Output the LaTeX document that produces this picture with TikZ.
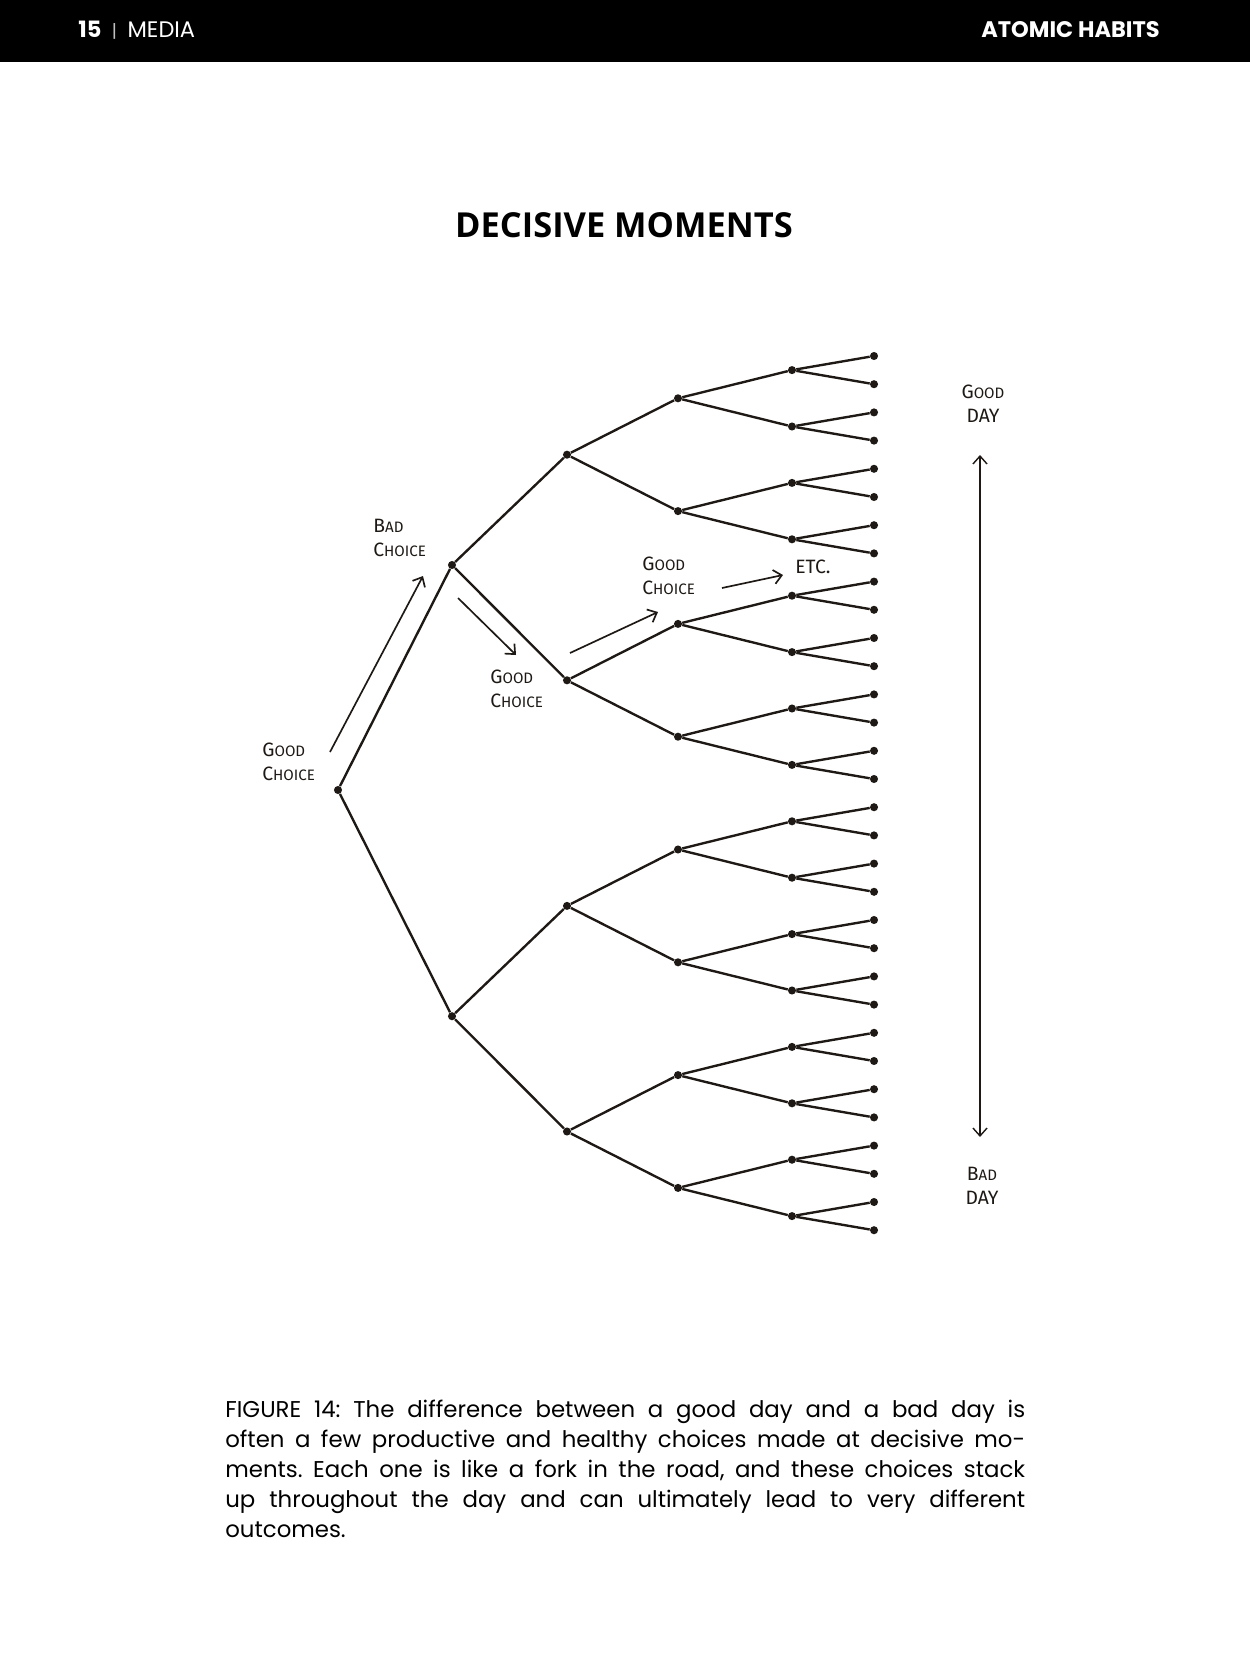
\documentclass[tikz,border=0pt]{standalone}
\usepackage{fontspec}
\usetikzlibrary{arrows.meta,positioning,calc}
\newfontfamily\headfont{Poppins}
\newfontfamily\titlefont{Open Sans}
\newfontfamily\handfont{Fira Sans}
\newfontfamily\capfont{Poppins}
\definecolor{ink}{HTML}{1E1915}
\newcommand{\hw}[2]{{\fontsize{11}{13.5}\selectfont #1}{\fontsize{8.6}{13.5}\selectfont #2}}
\tikzset{dotnode/.style={circle,fill=ink,inner sep=0pt,minimum size=4.6pt},branch/.style={draw=ink,line width=1.35pt},handarr/.style={-{Straight Barb[length=4.5pt,width=8pt]},draw=ink,line width=0.95pt},dayarr/.style={{Straight Barb[length=4.5pt,width=8pt]}-{Straight Barb[length=4.5pt,width=8pt]},draw=ink,line width=0.8pt},handlabel/.style={font=\handfont\fontsize{8.6}{13.5}\selectfont,text=ink,inner sep=0pt},headtext/.style={font=\headfont\fontsize{12.8}{14}\selectfont,text=white,inner sep=0pt},caption/.style={font=\capfont\fontsize{13}{17}\selectfont\frenchspacing,text width=16cm,align=justify,inner sep=0pt}}

\begin{document}
\begin{tikzpicture}[x=0.02cm,y=-0.02cm]
\useasboundingbox (0,0) rectangle (1250,1666);
\fill[white] (0,0) rectangle (1250,1666);
\fill[black] (0,0) rectangle (1250,62);
\node[headtext,anchor=west] (page) at (78,30) {\textbf{15}\hspace{6pt}{\color{white!75!black}\fontsize{10}{12}\selectfont|}\hspace{6pt}MEDIA};
\node[headtext,anchor=east] (book) at (1160,30) {\textbf{ATOMIC HABITS}};
\node[font=\titlefont\bfseries\fontsize{19.6}{22}\selectfont,inner sep=0pt] (title) at (624,225) {DECISIVE MOMENTS};
\node[dotnode] (r) at (338,790) {};
\foreach \i in {1,2} \node[dotnode] (a\i) at (452,{565+451.2*(\i-1)}) {};
\foreach \i in {1,...,4} \node[dotnode] (b\i) at (567,{454.7+225.6*(\i-1)}) {};
\foreach \i in {1,...,8} \node[dotnode] (c\i) at (678,{398.3+112.8*(\i-1)}) {};
\foreach \i in {1,...,16} \node[dotnode] (d\i) at (792,{370.1+56.4*(\i-1)}) {};
\foreach \i in {1,...,32} \node[dotnode] (e\i) at (874,{356+28.2*(\i-1)}) {};
\draw[branch] (r)--(a1);
\draw[branch] (r)--(a2);
\foreach \i [evaluate=\i as \j using {int(2*\i-1)},evaluate=\i as \k using {int(2*\i)}] in {1,2} {\draw[branch] (a\i)--(b\j); \draw[branch] (a\i)--(b\k);}
\foreach \i [evaluate=\i as \j using {int(2*\i-1)},evaluate=\i as \k using {int(2*\i)}] in {1,...,4} {\draw[branch] (b\i)--(c\j); \draw[branch] (b\i)--(c\k);}
\foreach \i [evaluate=\i as \j using {int(2*\i-1)},evaluate=\i as \k using {int(2*\i)}] in {1,...,8} {\draw[branch] (c\i)--(d\j); \draw[branch] (c\i)--(d\k);}
\foreach \i [evaluate=\i as \j using {int(2*\i-1)},evaluate=\i as \k using {int(2*\i)}] in {1,...,16} {\draw[branch] (d\i)--(e\j); \draw[branch] (d\i)--(e\k);}
\coordinate (up0) at (330,752);
\coordinate (up1) at (423,576);
\coordinate (dn0) at (458,598);
\coordinate (dn1) at (516,655);
\coordinate (gc0) at (570,653);
\coordinate (gc1) at (658,612);
\coordinate (etc0) at (722,588);
\coordinate (etc1) at (783,575);
\draw[handarr] (up0)--(up1);
\draw[handarr] (dn0)--(dn1);
\draw[handarr] (gc0)--(gc1);
\draw[handarr] (etc0)--(etc1);
\node[handlabel,anchor=north west,align=left] (good1) at (262,743) {\hw{G}{OOD}\\\hw{C}{HOICE}};
\node[handlabel,anchor=north west,align=left] (bad) at (373,519) {\hw{B}{AD}\\\hw{C}{HOICE}};
\node[handlabel,anchor=north west,align=left] (good2) at (490,670) {\hw{G}{OOD}\\\hw{C}{HOICE}};
\node[handlabel,anchor=north west,align=left] (good3) at (642,557) {\hw{G}{OOD}\\\hw{C}{HOICE}};
\node[handlabel,anchor=north west] (etc) at (795,560) {\hw{ETC.}{}};
\coordinate (gday) at (980,455);
\coordinate (bday) at (980,1137);
\draw[dayarr] (gday)--(bday);
\node[handlabel,anchor=south,align=center] (goodday) at (983,423) {\hw{G}{OOD}\\\hw{DAY}{}};
\node[handlabel,anchor=north,align=center] (badday) at (982,1167) {\hw{B}{AD}\\\hw{DAY}{}};
\node[caption,anchor=north west] (cap) at (225,1400) {FIGURE 14: The difference between a good day and a bad day is\linebreak often a few productive and healthy choices made at decisive mo-\linebreak ments. Each one is like a fork in the road, and these choices stack\linebreak up throughout the day and can ultimately lead to very different\linebreak outcomes.};
\end{tikzpicture}
\end{document}
